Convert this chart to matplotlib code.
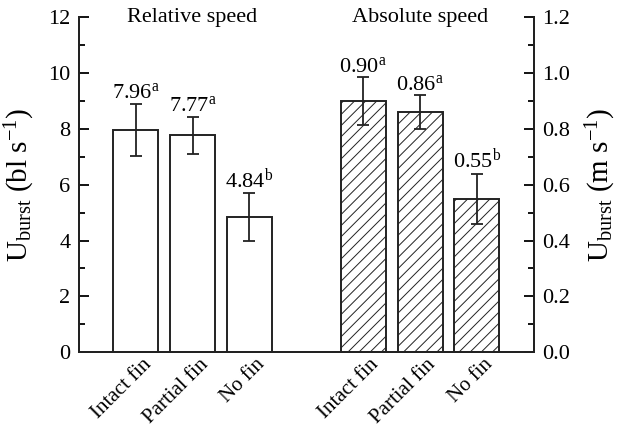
import matplotlib
matplotlib.use("Agg")
import matplotlib.pyplot as plt
import matplotlib.transforms as mtransforms
import numpy as np

categories = ["Intact fin", "Partial fin", "No fin"]
rel_speed = [7.96, 7.77, 4.84]
rel_err = [0.93, 0.67, 0.86]
rel_letters = ["a", "a", "b"]
abs_speed = [0.90, 0.86, 0.55]
abs_err = [0.085, 0.06, 0.09]
abs_letters = ["a", "a", "b"]

plt.rcParams['font.family'] = ['Liberation Serif', 'DejaVu Serif']
plt.rcParams['mathtext.fontset'] = 'custom'
plt.rcParams['mathtext.rm'] = 'Liberation Serif'
plt.rcParams['mathtext.it'] = 'Liberation Serif:italic'
plt.rcParams['hatch.linewidth'] = 0.7
plt.rcParams['hatch.color'] = '#222222'

fig = plt.figure(figsize=(6.2, 4.3), dpi=100)
ax = fig.add_axes([0.127, 0.181, 0.734, 0.779])
ax2 = ax.twinx()

xl = np.arange(len(categories))
xr = xl + 4
w = 0.79
lw = 1.4

ax.bar(xl, rel_speed, width=w, color='white', edgecolor='#222222', linewidth=lw, zorder=2)
ax.errorbar(xl, rel_speed, yerr=rel_err, fmt='none', ecolor='#222222', elinewidth=1.3, capsize=4, capthick=1.3, zorder=3)
for x, v, e, l in zip(xl, rel_speed, rel_err, rel_letters):
    ax.text(x, v + e + 0.02, f"{v:.2f}$^{{\\mathrm{{{l}}}}}$", ha='center', va='bottom', fontsize=16)

ax2.bar(xr, abs_speed, width=w, color='white', edgecolor='#222222', linewidth=lw, hatch='///', zorder=2)
ax2.errorbar(xr, abs_speed, yerr=abs_err, fmt='none', ecolor='#222222', elinewidth=1.3, capsize=4, capthick=1.3, zorder=3)
for x, v, e, l in zip(xr, abs_speed, abs_err, abs_letters):
    ax2.text(x, v + e + 0.002, f"{v:.2f}$^{{\\mathrm{{{l}}}}}$", ha='center', va='bottom', fontsize=16)

ax.set_xlim(-1, 7)
ax.set_ylim(0, 12)
ax2.set_ylim(0, 1.2)
ax.set_yticks(np.arange(0, 13, 2))
ax.set_yticks(np.arange(1, 12, 2), minor=True)
ax2.set_yticks(np.round(np.arange(0, 1.21, 0.2), 1))
ax2.set_yticks(np.round(np.arange(0.1, 1.2, 0.2), 1), minor=True)
ax2.set_yticklabels([f"{t:.1f}" for t in np.arange(0, 1.21, 0.2)])

ax.set_xticks(list(xl) + list(xr))
ax.set_xticklabels(categories + categories, rotation=45, ha='right', rotation_mode='anchor', fontsize=15)
ax.tick_params(axis='x', direction='in', length=3, width=1.0, pad=2)
ax.tick_params(axis='y', which='major', direction='in', length=7, width=1.3, labelsize=16, pad=6)
ax.tick_params(axis='y', which='minor', direction='in', length=4, width=1.3)
ax2.tick_params(axis='y', which='major', direction='in', length=7, width=1.3, labelsize=16, pad=6)
ax2.tick_params(axis='y', which='minor', direction='in', length=4, width=1.3)
offset = mtransforms.ScaledTranslation(6 / 100, 0, fig.dpi_scale_trans)
for lab in ax.get_xticklabels():
    lab.set_transform(lab.get_transform() + offset)

for a in (ax, ax2):
    a.spines['top'].set_visible(False)
    for s in ('left', 'right', 'bottom'):
        a.spines[s].set_linewidth(1.4)
        a.spines[s].set_color('#222222')

ax.text(1, 12.0, "Relative speed", ha='center', va='center', fontsize=16)
ax.text(5, 12.0, "Absolute speed", ha='center', va='center', fontsize=16)

ax.set_ylabel(r"U$_{\mathrm{burst}}$ (bl s$^{-1}$)", fontsize=21, labelpad=8)
ax2.set_ylabel(r"U$_{\mathrm{burst}}$ (m s$^{-1}$)", fontsize=21, labelpad=10)

fig.savefig("out.png", dpi=100)
